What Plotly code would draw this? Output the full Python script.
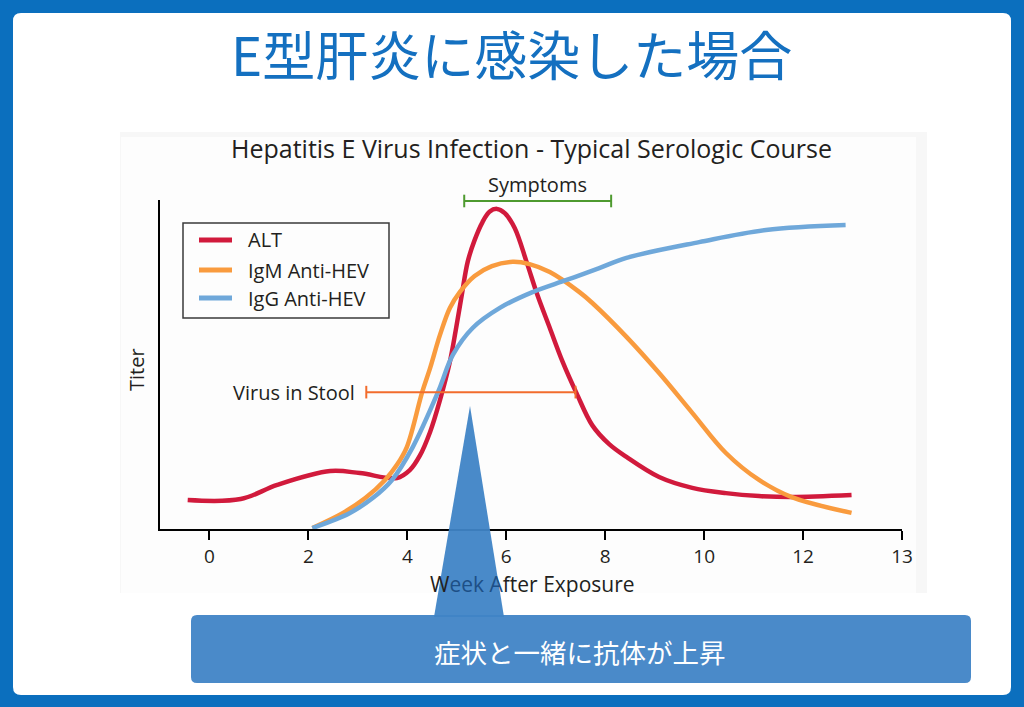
import plotly.graph_objects as go

# ---------------- data ----------------
alt_weeks = [-0.44, 0.63, 1.37, 2.44, 3.04, 3.79, 4.05, 4.25, 4.46, 4.66, 4.86, 4.98, 5.10, 5.22, 5.36,
             5.52, 5.66, 5.81, 5.97, 6.17, 6.41, 6.63, 6.88, 7.14, 7.42, 7.74, 8.08, 8.43, 9.09,
             9.76, 10.44, 11.11, 11.77, 12.98]
alt_titer = [8.8, 9.1, 13.4, 17.6, 17.0, 15.5, 17.9, 22.2, 29.5, 39.2, 50.8, 60.5, 71.1, 81.2, 87.8,
             93.3, 96.4, 97.3, 96.0, 91.5, 81.2, 71.1, 61.1, 50.8, 41.3, 31.5, 25.8, 21.9, 15.8,
             12.5, 10.9, 10.0, 9.7, 10.3]

igm_weeks = [2.08, 2.70, 3.15, 3.55, 3.79, 3.99, 4.30, 4.46, 4.66, 4.86, 5.06, 5.36, 5.71, 6.13, 6.47,
             6.88, 7.48, 7.74, 8.43, 9.09, 9.76, 10.44, 11.11, 11.77, 12.98]
igm_titer = [0.3, 4.9, 9.4, 14.9, 19.5, 24.9, 41.6, 48.9, 59.0, 67.2, 72.0, 76.9, 79.9, 81.2, 80.5,
             78.1, 72.0, 68.7, 58.4, 47.4, 35.3, 23.1, 14.9, 9.7, 4.9]

igg_weeks = [2.08, 2.84, 3.30, 3.69, 4.11, 4.62, 4.92, 5.32, 5.87, 6.53, 7.22, 7.88, 8.43, 9.90, 11.25, 12.86]
igg_titer = [0.3, 4.9, 9.4, 14.9, 24.9, 41.6, 52.9, 61.1, 67.2, 72.0, 75.7, 79.3, 82.4, 87.2, 90.9, 92.4]

symptoms_range = [5.15, 8.12]
symptoms_level = 99.7
virus_range = [3.17, 7.40]
virus_level = 41.6

tick_vals = [0, 2, 4, 6, 8, 10, 12, 14]
tick_text = ["0", "2", "4", "6", "8", "10", "12", "13"]

series_names = ["ALT", "IgM Anti-HEV", "IgG Anti-HEV"]
series_colors = ["#D11A3C", "#F99B3E", "#6FA8DA"]

page_title = "E型肝炎に感染した場合"
chart_title = "Hepatitis E Virus Infection - Typical Serologic Course"
callout_text = "症状と一緒に抗体が上昇"

# ---------------- helpers ----------------
W, H = 1024, 707
def PX(x):
    return x / W
def PY(y):
    return 1 - y / H

def rounded_rect(x0, y0, x1, y1, r):
    pts = [
        f"M {PX(x0 + r)},{PY(y0)}",
        f"L {PX(x1 - r)},{PY(y0)}",
        f"Q {PX(x1)},{PY(y0)} {PX(x1)},{PY(y0 + r)}",
        f"L {PX(x1)},{PY(y1 - r)}",
        f"Q {PX(x1)},{PY(y1)} {PX(x1 - r)},{PY(y1)}",
        f"L {PX(x0 + r)},{PY(y1)}",
        f"Q {PX(x0)},{PY(y1)} {PX(x0)},{PY(y1 - r)}",
        f"L {PX(x0)},{PY(y0 + r)}",
        f"Q {PX(x0)},{PY(y0)} {PX(x0 + r)},{PY(y0)}",
        "Z",
    ]
    return " ".join(pts)

FONT = "Open Sans, Noto Sans, sans-serif"
TXT = "#231F20"

fig = go.Figure()

for xs, ys, name, col in [(alt_weeks, alt_titer, series_names[0], series_colors[0]),
                          (igm_weeks, igm_titer, series_names[1], series_colors[1]),
                          (igg_weeks, igg_titer, series_names[2], series_colors[2])]:
    fig.add_trace(go.Scatter(x=xs, y=ys, mode="lines", name=name,
                             line=dict(color=col, width=4.5, shape="spline", smoothing=1.0),
                             showlegend=False, hoverinfo="skip"))

# range bars
fig.add_trace(go.Scatter(x=symptoms_range, y=[symptoms_level] * 2, mode="lines+markers",
                         line=dict(color="#4E9A2F", width=2),
                         marker=dict(symbol="line-ns-open", size=9, line=dict(color="#4E9A2F", width=2)),
                         showlegend=False, hoverinfo="skip", cliponaxis=False))
fig.add_trace(go.Scatter(x=virus_range, y=[virus_level] * 2, mode="lines+markers",
                         line=dict(color="#F26C2D", width=2),
                         marker=dict(symbol="line-ns-open", size=9, line=dict(color="#F26C2D", width=2)),
                         showlegend=False, hoverinfo="skip", cliponaxis=False))

shapes = []
shapes.append(dict(type="path", xref="paper", yref="paper", path=rounded_rect(13, 13, 1011, 695, 8),
                   fillcolor="white", line=dict(width=0), layer="below"))
shapes.append(dict(type="rect", xref="paper", yref="paper", x0=PX(120), x1=PX(927), y0=PY(593), y1=PY(132),
                   fillcolor="#F7F7F7", line=dict(width=0), layer="below"))
shapes.append(dict(type="rect", xref="paper", yref="paper", x0=PX(121), x1=PX(916), y0=PY(593), y1=PY(137),
                   fillcolor="#FDFDFD", line=dict(width=0), layer="below"))
# legend box
shapes.append(dict(type="rect", xref="paper", yref="paper", x0=PX(183), x1=PX(389), y0=PY(318), y1=PY(223),
                   fillcolor="rgba(0,0,0,0)", line=dict(color="#3A3A3A", width=1.5), layer="above"))
legend_rows = [240, 270, 298]
for yy, col in zip(legend_rows, series_colors):
    shapes.append(dict(type="line", xref="paper", yref="paper", x0=PX(199), x1=PX(232), y0=PY(yy), y1=PY(yy),
                       line=dict(color=col, width=5), layer="above"))
# callout box + pointer
shapes.append(dict(type="path", xref="paper", yref="paper", path=rounded_rect(191, 615, 971, 683, 6),
                   fillcolor="#4A8AC9", line=dict(width=0), layer="above"))
shapes.append(dict(type="path", xref="paper", yref="paper",
                   path=f"M {PX(434)},{PY(617)} L {PX(470)},{PY(406)} L {PX(504)},{PY(617)} Z",
                   fillcolor="#3F84C6", opacity=0.95, line=dict(width=0), layer="above"))

annotations = []
annotations.append(dict(text=page_title, x=PX(511), y=PY(53), xref="paper", yref="paper", showarrow=False,
                        font=dict(family="Noto Sans CJK JP", size=53, color="#1470C0"),
                        xanchor="center", yanchor="middle"))
annotations.append(dict(text=chart_title, x=PX(531), y=PY(148), xref="paper", yref="paper", showarrow=False,
                        font=dict(family=FONT, size=25, color=TXT), xanchor="center", yanchor="middle"))
annotations.append(dict(text="Symptoms", x=(symptoms_range[0] + symptoms_range[1]) / 2, y=symptoms_level,
                        xref="x", yref="y", showarrow=False, yshift=16,
                        font=dict(family=FONT, size=20, color=TXT), xanchor="center", yanchor="middle"))
annotations.append(dict(text="Virus in Stool", x=virus_range[0], y=virus_level, xref="x", yref="y",
                        showarrow=False, xshift=-9, font=dict(family=FONT, size=20, color=TXT),
                        xanchor="right", yanchor="middle"))
for yy, name in zip(legend_rows, series_names):
    annotations.append(dict(text=name, x=PX(246), y=PY(yy), xref="paper", yref="paper", showarrow=False,
                            font=dict(family=FONT, size=20, color=TXT), xanchor="left", yanchor="middle"))
annotations.append(dict(text="W<span style='color:#1D4F86'>eek A</span>fter Exposure", x=PX(532), y=PY(584),
                        xref="paper", yref="paper", showarrow=False,
                        font=dict(family=FONT, size=21, color=TXT), xanchor="center", yanchor="middle"))
annotations.append(dict(text="Titer", x=PX(136), y=PY(370), xref="paper", yref="paper", showarrow=False,
                        textangle=-90, font=dict(family=FONT, size=20, color=TXT),
                        xanchor="center", yanchor="middle"))
annotations.append(dict(text=callout_text, x=PX(580), y=PY(651), xref="paper", yref="paper", showarrow=False,
                        font=dict(family="Noto Sans CJK JP", size=26.5, color="white"),
                        xanchor="center", yanchor="middle"))

fig.update_layout(
    width=W, height=H, autosize=False,
    margin=dict(l=0, r=0, t=0, b=0, pad=0, autoexpand=False),
    paper_bgcolor="#0B6FBE",
    plot_bgcolor="rgba(0,0,0,0)",
    shapes=shapes, annotations=annotations,
    xaxis=dict(domain=[PX(160), PX(902)], range=[-1, 14], showgrid=False, zeroline=False,
               automargin=False,
               showline=True, linecolor="black", linewidth=2,
               ticks="outside", ticklen=9, tickwidth=2, tickcolor="black",
               tickvals=tick_vals, ticktext=tick_text,
               tickfont=dict(family=FONT, size=19, color=TXT), ticklabelstandoff=0),
    yaxis=dict(domain=[PY(529), PY(200)], range=[0, 100], showgrid=False, zeroline=False,
               automargin=False,
               showline=True, linecolor="black", linewidth=2, showticklabels=False, ticks=""),
    showlegend=False,
)

post = ("document.documentElement.style.overflow='hidden';"
        "document.body.style.overflow='hidden';document.body.style.margin='0';")
fig.write_html("out.html", post_script=post)
